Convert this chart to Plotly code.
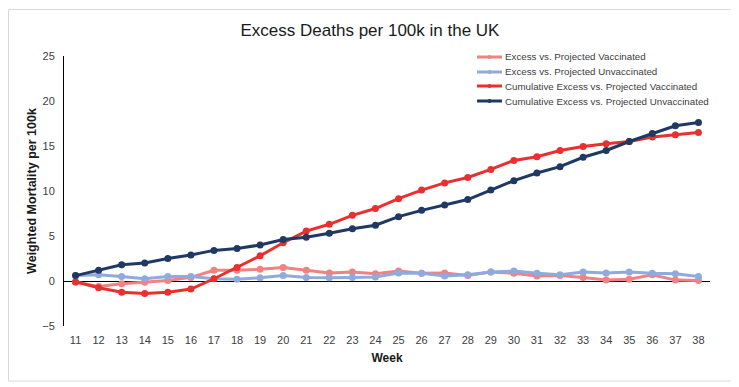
import plotly.graph_objects as go

weeks = [11, 12, 13, 14, 15, 16, 17, 18, 19, 20, 21, 22, 23, 24, 25, 26, 27, 28, 29, 30, 31, 32, 33, 34, 35, 36, 37, 38]

excess_vacc = [-0.1, -0.6, -0.3, -0.15, 0.05, 0.4, 1.2, 1.2, 1.3, 1.5, 1.2, 0.9, 1.0, 0.8,
               1.1, 0.85, 0.9, 0.6, 1.0, 0.85, 0.55, 0.6, 0.4, 0.1, 0.2, 0.7, 0.1, 0.05]
excess_unvacc = [0.6, 0.7, 0.5, 0.25, 0.5, 0.5, 0.25, 0.2, 0.35, 0.6, 0.4, 0.35, 0.4, 0.45,
                 0.9, 0.85, 0.55, 0.7, 1.0, 1.1, 0.85, 0.7, 1.0, 0.9, 1.0, 0.85, 0.8, 0.5]
cum_vacc = [-0.1, -0.75, -1.25, -1.4, -1.25, -0.9, 0.25, 1.5, 2.8, 4.25, 5.55, 6.3, 7.3, 8.05,
            9.15, 10.1, 10.9, 11.5, 12.4, 13.4, 13.8, 14.5, 14.95, 15.25, 15.5, 16.0, 16.25, 16.5]
cum_unvacc = [0.6, 1.2, 1.8, 2.0, 2.5, 2.9, 3.4, 3.6, 4.0, 4.6, 4.85, 5.3, 5.8, 6.2,
              7.15, 7.85, 8.45, 9.05, 10.1, 11.15, 12.0, 12.7, 13.75, 14.5, 15.5, 16.4, 17.25, 17.6]

series_names = ["Excess vs. Projected Vaccinated",
                "Excess vs. Projected Unvaccinated",
                "Cumulative Excess vs. Projected Vaccinated",
                "Cumulative Excess vs. Projected Unvaccinated"]
series_values = [excess_vacc, excess_unvacc, cum_vacc, cum_unvacc]
series_colors = ["#F08282", "#8FAADC", "#E8302F", "#1F3864"]

y_ticks = [-5, 0, 5, 10, 15, 20, 25]

# page has an 8px body margin, so figure coordinates = page coordinates - 8
OFF = 8
W, H = 739 - OFF, 387 - OFF
L, R, T, B = 64 - OFF, 710 - OFF, 56 - OFF, 326 - OFF  # plot area in figure pixels


def px(xp):
    # xp given in page pixels
    return (xp - OFF - L) / (R - L)


def py(yp):
    return (B - (yp - OFF)) / (B - T)


FONT = "Liberation Sans, Arial, sans-serif"

fig = go.Figure()
for name, vals, col in zip(series_names, series_values, series_colors):
    fig.add_trace(go.Scatter(
        x=weeks, y=vals, name=name, mode="lines+markers",
        line=dict(color=col, width=3),
        marker=dict(color=col, size=7, symbol="circle"),
        showlegend=False,
    ))

shapes = [
    # outer chart border
    dict(type="rect", xref="paper", yref="paper",
         x0=px(8.5), x1=px(733), y0=py(381), y1=py(9.5),
         line=dict(color="#D9D9D9", width=1), fillcolor="rgba(0,0,0,0)", layer="below"),
]
annotations = []
legend_y = [57, 72, 86, 101]
for name, col, ly in zip(series_names, series_colors, legend_y):
    shapes.append(dict(type="line", xref="paper", yref="paper",
                       x0=px(477), x1=px(502), y0=py(ly), y1=py(ly),
                       line=dict(color=col, width=3)))
    shapes.append(dict(type="circle", xref="paper", yref="paper",
                       x0=px(487.5), x1=px(491.5), y0=py(ly + 2), y1=py(ly - 2),
                       line=dict(color=col, width=0), fillcolor=col))
    annotations.append(dict(text=name, xref="paper", yref="paper",
                            x=px(503), y=py(ly), xanchor="left", yanchor="middle",
                            showarrow=False,
                            font=dict(family=FONT, size=9.75, color="#404040")))

fig.update_layout(
    width=W, height=H,
    margin=dict(l=L, r=W - R, t=T, b=H - B),
    paper_bgcolor="white", plot_bgcolor="white",
    title=dict(text="Excess Deaths per 100k in the UK", x=(370 - OFF) / W, xanchor="center",
               y=1 - (30 - OFF) / H, yanchor="middle",
               font=dict(family=FONT, size=17, color="#1a1a1a")),
    xaxis=dict(range=[10.5, 38.5], tickmode="array", tickvals=weeks,
               ticktext=[str(w) for w in weeks],
               showgrid=False, zeroline=False, showline=False, ticks="",
               tickfont=dict(family=FONT, size=11, color="#404040"),
               ticklabelstandoff=6,
               title=dict(text="<b>Week</b>", standoff=8,
                          font=dict(family=FONT, size=12, color="#1a1a1a"))),
    yaxis=dict(range=[-5, 25], tickmode="array", tickvals=y_ticks,
               showgrid=False, zeroline=True, zerolinecolor="#000000", zerolinewidth=1,
               showline=True, linecolor="#000000", linewidth=1, ticks="",
               tickfont=dict(family=FONT, size=11, color="#404040"),
               ticklabelstandoff=6,
               title=dict(text="<b>Weighted Mortality per 100k</b>", standoff=2,
                          font=dict(family=FONT, size=12.5, color="#1a1a1a"))),
    shapes=shapes,
    annotations=annotations,
)

fig.write_html("out.html")
